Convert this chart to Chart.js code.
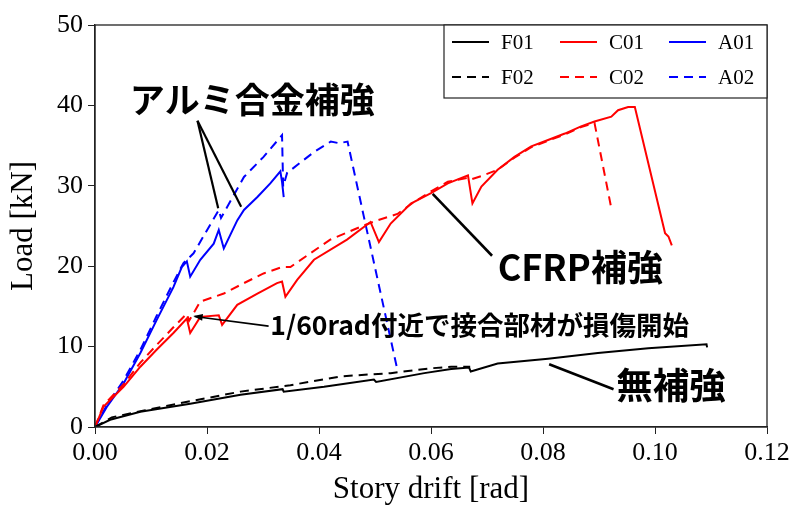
<!DOCTYPE html>
<html>
<head>
<meta charset="utf-8">
<script src="https://cdn.jsdelivr.net/npm/chart.js@4.4.1/dist/chart.umd.min.js"></script>
<style>
    html, body { margin: 0; padding: 0; background: #ffffff; }
    #wrap { width: 795px; height: 505px; position: relative; }
</style>
</head>
<body>
<div id="wrap"><canvas id="driftChart"></canvas></div>
<script>
// ---------- values ----------
const xTicks = [0, 0.02, 0.04, 0.06, 0.08, 0.10, 0.12];
const yTicks = [0, 10, 20, 30, 40, 50];

const f01Drift = [0, 0.0027, 0.0081, 0.017, 0.026, 0.0335, 0.0337, 0.0409, 0.0498, 0.0502, 0.0588, 0.0636, 0.0668, 0.0671, 0.0719, 0.0809, 0.0898, 0.0988, 0.1092, 0.1093];
const f01Load  = [0, 0.9, 1.9, 2.9, 4.0, 4.7, 4.4, 5.0, 5.9, 5.6, 6.7, 7.2, 7.4, 6.9, 7.9, 8.5, 9.2, 9.8, 10.3, 9.9];

const f02Drift = [0, 0.003, 0.009, 0.017, 0.026, 0.0349, 0.0439, 0.0528, 0.060, 0.0636, 0.067];
const f02Load  = [0, 1.2, 2.1, 3.2, 4.4, 5.2, 6.3, 6.7, 7.3, 7.5, 7.5];

const c01Drift = [0, 0.0015, 0.0051, 0.0081, 0.011, 0.014, 0.0164, 0.017, 0.0188, 0.0221, 0.0227, 0.0254, 0.029, 0.0325, 0.0334, 0.034, 0.0361, 0.0391, 0.045, 0.0492, 0.0507, 0.0528, 0.0564, 0.060, 0.063, 0.0666, 0.0674, 0.069, 0.0719, 0.0749, 0.0779, 0.0809, 0.0839, 0.0868, 0.0892, 0.0922, 0.0934, 0.0952, 0.0964, 0.1018, 0.1024, 0.103];
const c01Load  = [0, 2.5, 5.0, 7.5, 9.6, 11.7, 13.5, 11.7, 13.7, 13.9, 12.7, 15.2, 16.6, 17.9, 18.1, 16.2, 18.3, 20.8, 23.3, 25.5, 23.0, 25.3, 27.8, 29.1, 30.3, 31.3, 27.8, 29.9, 32.0, 33.6, 34.9, 35.7, 36.5, 37.4, 38.0, 38.6, 39.4, 39.8, 39.8, 24.1, 23.7, 22.6];

const c02Drift = [0, 0.0015, 0.0051, 0.0081, 0.011, 0.014, 0.0164, 0.0168, 0.0188, 0.023, 0.0266, 0.0301, 0.0334, 0.0349, 0.042, 0.0474, 0.050, 0.054, 0.057, 0.060, 0.063, 0.0666, 0.0672, 0.069, 0.0719, 0.0749, 0.0779, 0.0809, 0.0839, 0.0868, 0.0892, 0.0922];
const c02Load  = [0, 2.7, 5.3, 8.0, 10.2, 12.4, 14.1, 13.2, 15.6, 16.6, 17.9, 19.1, 19.9, 19.9, 23.3, 24.9, 25.6, 26.5, 28.0, 29.3, 30.5, 31.0, 30.8, 31.2, 32.0, 33.5, 34.8, 35.6, 36.4, 37.3, 37.8, 27.2];

const a01Drift = [0, 0.0021, 0.0051, 0.0081, 0.011, 0.014, 0.0155, 0.0164, 0.017, 0.0188, 0.0212, 0.0221, 0.023, 0.0254, 0.0266, 0.029, 0.0313, 0.0331, 0.0334, 0.0337];
const a01Load  = [0, 2.5, 5.4, 9.2, 13.3, 17.4, 19.9, 20.6, 18.7, 20.8, 22.8, 24.5, 22.2, 25.7, 27.0, 28.6, 30.3, 31.8, 30.5, 28.6];

const a02Drift = [0, 0.0021, 0.0051, 0.0081, 0.011, 0.014, 0.0158, 0.0176, 0.0221, 0.0225, 0.0266, 0.0301, 0.0334, 0.0336, 0.0343, 0.0391, 0.0421, 0.0436, 0.0451, 0.048, 0.054];
const a02Load  = [0, 2.7, 5.8, 9.6, 13.8, 18.0, 20.4, 21.6, 27.0, 26.0, 31.1, 33.6, 36.3, 29.9, 31.6, 34.2, 35.5, 35.3, 35.5, 26.2, 7.1];

const seriesNames = ["F01", "F02", "C01", "C02", "A01", "A02"];

// ---------- helpers ----------
const serif = "'Liberation Serif', 'DejaVu Serif', serif";
const jp = "'Noto Sans CJK JP', 'Noto Sans', sans-serif";

function toPoints(xs, ys) {
    return xs.map((x, i) => ({ x: x, y: ys[i] }));
}

function curve(label, xs, ys, color, dashed) {
    return {
        label: label,
        data: toPoints(xs, ys),
        borderColor: color,
        backgroundColor: color,
        borderWidth: 2,
        borderDash: dashed ? [9, 6] : [],
        pointRadius: 0,
        tension: 0,
        fill: false
    };
}

// legend drawn inside the plot, top right, with a plain box
const legendBox = {
    id: "legendBox",
    afterDraw(chart) {
        const { ctx, chartArea } = chart;
        const left = 444, top = chartArea.top, right = chartArea.right, bottom = 98;
        ctx.save();
        ctx.fillStyle = "#ffffff";
        ctx.fillRect(left, top, right - left, bottom - top);
        ctx.strokeStyle = "#222";
        ctx.lineWidth = 1.2;
        ctx.strokeRect(left, top, right - left, bottom - top);

        const colX = [452, 560, 669];
        const rowY = [42, 77];
        chart.data.datasets.forEach((ds, i) => {
            const x = colX[Math.floor(i / 2)];
            const y = rowY[i % 2];
            ctx.strokeStyle = ds.borderColor;
            ctx.lineWidth = 2;
            ctx.setLineDash(ds.borderDash);
            ctx.beginPath();
            ctx.moveTo(x, y);
            ctx.lineTo(x + 37, y);
            ctx.stroke();
            ctx.setLineDash([]);
            ctx.fillStyle = "#000";
            ctx.font = "21px " + serif;
            ctx.textBaseline = "middle";
            ctx.fillText(ds.label, x + 49, y + 1);
        });
        ctx.restore();
    }
};

// frame round the plot area
const frameBox = {
    id: "frameBox",
    afterDatasetsDraw(chart) {
        const { ctx, chartArea } = chart;
        ctx.save();
        ctx.strokeStyle = "#222";
        ctx.lineWidth = 1.3;
        ctx.strokeRect(chartArea.left, chartArea.top, chartArea.width, chartArea.height);
        ctx.restore();
    }
};

// japanese callouts, anchored in data units
const callouts = {
    id: "callouts",
    afterDraw(chart) {
        const { ctx } = chart;
        const sx = chart.scales.x, sy = chart.scales.y;
        const px = v => sx.getPixelForValue(v);
        const py = v => sy.getPixelForValue(v);

        function seg(x1, y1, x2, y2, w) {
            ctx.lineWidth = w;
            ctx.beginPath();
            ctx.moveTo(px(x1), py(y1));
            ctx.lineTo(px(x2), py(y2));
            ctx.stroke();
        }

        ctx.save();
        ctx.strokeStyle = "#000";
        ctx.fillStyle = "#000";
        ctx.textBaseline = "middle";

        // アルミ合金補強
        ctx.font = "bold 35px " + jp;
        ctx.fillText("アルミ合金補強", px(0.0062), py(40.7));
        seg(0.0183, 38.1, 0.0220, 27.2, 2.2);
        seg(0.0183, 38.1, 0.0261, 27.4, 2.2);

        // CFRP補強
        ctx.font = "bold 36px " + jp;
        ctx.fillText("CFRP補強", px(0.0719), py(19.8));
        seg(0.0603, 29.0, 0.0709, 21.3, 2.6);

        // 1/60rad note with arrow
        ctx.font = "bold 26.5px " + jp;
        ctx.fillText("1/60rad付近で接合部材が損傷開始", px(0.0313), py(12.7));
        seg(0.0310, 12.55, 0.0178, 13.75, 1.6);
        const tipX = px(0.01755), tipY = py(13.8);
        const ang = Math.atan2(py(12.55) - tipY, px(0.0310) - tipX);
        ctx.beginPath();
        ctx.moveTo(tipX, tipY);
        ctx.lineTo(tipX + 10 * Math.cos(ang - 0.35), tipY + 10 * Math.sin(ang - 0.35));
        ctx.lineTo(tipX + 10 * Math.cos(ang + 0.35), tipY + 10 * Math.sin(ang + 0.35));
        ctx.closePath();
        ctx.fill();

        // 無補強
        ctx.font = "bold 36.5px " + jp;
        ctx.fillText("無補強", px(0.0931), py(5.2));
        seg(0.0811, 7.8, 0.0926, 4.7, 2.6);

        ctx.restore();
    }
};

// ---------- chart ----------
const chart = new Chart(document.getElementById("driftChart"), {
    type: "line",
    data: {
        datasets: [
            curve(seriesNames[0], f01Drift, f01Load, "#000000", false),
            curve(seriesNames[1], f02Drift, f02Load, "#000000", true),
            curve(seriesNames[2], c01Drift, c01Load, "#ff0000", false),
            curve(seriesNames[3], c02Drift, c02Load, "#ff0000", true),
            curve(seriesNames[4], a01Drift, a01Load, "#0000ff", false),
            curve(seriesNames[5], a02Drift, a02Load, "#0000ff", true)
        ]
    },
    plugins: [frameBox, legendBox, callouts],
    options: {
        responsive: true,
        maintainAspectRatio: false,
        animation: false,
        layout: {
            padding: { top: 25, right: 28, left: 0, bottom: 0 }
        },
        plugins: {
            legend: { display: false },
            tooltip: { enabled: false }
        },
        scales: {
            x: {
                type: "linear",
                min: 0,
                max: 0.12,
                afterBuildTicks: s => { s.ticks = xTicks.map(v => ({ value: v })); },
                afterFit: s => { s.height = 78; },
                ticks: {
                    color: "#000",
                    padding: 4,
                    maxRotation: 0,
                    font: { family: serif, size: 26 },
                    callback: v => Number(v).toFixed(2)
                },
                grid: {
                    drawOnChartArea: false,
                    drawTicks: true,
                    tickLength: 7,
                    color: "#222"
                },
                border: { display: true, color: "#222", width: 1.3 },
                title: {
                    display: true,
                    text: "Story drift [rad]",
                    color: "#000",
                    font: { family: serif, size: 31, lineHeight: 1 },
                    padding: { top: 0, bottom: 0 }
                }
            },
            y: {
                type: "linear",
                min: 0,
                max: 50,
                afterBuildTicks: s => { s.ticks = yTicks.map(v => ({ value: v })); },
                afterFit: s => { s.width = 95; },
                ticks: {
                    color: "#000",
                    padding: 5,
                    font: { family: serif, size: 26 }
                },
                grid: {
                    drawOnChartArea: false,
                    drawTicks: true,
                    tickLength: 7,
                    color: "#222"
                },
                border: { display: true, color: "#222", width: 1.3 },
                title: {
                    display: true,
                    text: "Load [kN]",
                    color: "#000",
                    font: { family: serif, size: 31, lineHeight: 1 },
                    padding: { top: 8, bottom: 0 }
                }
            }
        }
    }
});
</script>
</body>
</html>
